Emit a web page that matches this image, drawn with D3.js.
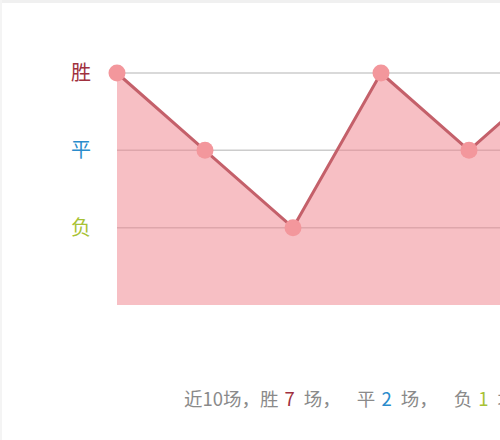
<!DOCTYPE html>
<html>
<head>
<meta charset="utf-8">
<title>近10场战绩</title>
<script src="https://cdn.jsdelivr.net/npm/d3@7"></script>
<style>
    html, body { margin: 0; padding: 0; background: #fff; overflow: hidden; }
    #main { width: 500px; height: 440px; overflow: hidden; position: relative; }
</style>
</head>
<body>
<div id="main"></div>
<script>
"use strict";

// results of the last 10 matches, 3 = win, 2 = draw, 1 = loss
const matchIndex = [1, 2, 3, 4, 5, 6, 7, 8, 9, 10];
const matchResults = [3, 2, 1, 3, 2, 3, 3, 3, 3, 3];
const resultLevels = [3, 2, 1];
const resultLabels = ["胜", "平", "负"];
const resultColors = ["#a0303e", "#2a8ccc", "#a8c234"];
const summaryCounts = [7, 2, 1];

function drawChart() {
    const width = 1000;
    const height = 440;

    const svg = d3.select("#main")
        .append("svg")
        .attr("width", width)
        .attr("height", height)
        .style("font-family", "'Noto Sans CJK SC', 'Noto Sans', sans-serif");

    // faint frame on top and left
    svg.append("rect").attr("x", 0).attr("y", 0).attr("width", width).attr("height", 3).attr("fill", "#f0f0f0");
    svg.append("rect").attr("x", 0).attr("y", 0).attr("width", 2).attr("height", height).attr("fill", "#f4f4f4");

    const x = d3.scaleLinear()
        .domain([1, 10])
        .range([117, 117 + 9 * 88]);
    const y = d3.scaleLinear()
        .domain([0, 3])
        .range([305, 73]);

    // horizontal grid lines for every level
    svg.append("g")
        .selectAll("line")
        .data(resultLevels)
        .join("line")
        .attr("x1", x(1))
        .attr("x2", width)
        .attr("y1", d => y(d))
        .attr("y2", d => y(d))
        .attr("stroke", "#cccccc")
        .attr("stroke-width", 1.5);

    const points = matchIndex.map((m, i) => ({ m, v: matchResults[i] }));

    // filled area down to zero
    const area = d3.area()
        .x(d => x(d.m))
        .y0(y(0))
        .y1(d => y(d.v));
    svg.append("path")
        .datum(points)
        .attr("d", area)
        .attr("fill", "rgb(240,128,138)")
        .attr("fill-opacity", 0.5);

    const line = d3.line()
        .x(d => x(d.m))
        .y(d => y(d.v));
    svg.append("path")
        .datum(points)
        .attr("d", line)
        .attr("fill", "none")
        .attr("stroke", "#c4606a")
        .attr("stroke-width", 3)
        .attr("stroke-linejoin", "round");

    svg.append("g")
        .selectAll("circle")
        .data(points)
        .join("circle")
        .attr("cx", d => x(d.m))
        .attr("cy", d => y(d.v))
        .attr("r", 8.5)
        .attr("fill", "#f3979c");

    // level labels on the left
    svg.append("g")
        .selectAll("text")
        .data(resultLevels)
        .join("text")
        .attr("x", 81)
        .attr("y", d => y(d))
        .attr("dy", "0.35em")
        .attr("text-anchor", "middle")
        .style("font-size", "20px")
        .attr("fill", (d, i) => resultColors[i])
        .text((d, i) => resultLabels[i]);

    // summary line at the bottom
    const summary = svg.append("text")
        .attr("x", 184)
        .attr("y", 406)
        .style("font-size", "18.5px")
        .attr("fill", "#8a8a8a");
    summary.append("tspan").text("近" + matchIndex.length + "场，");
    resultLabels.forEach((label, i) => {
        summary.append("tspan").attr("dx", i === 0 ? 0 : 16).text(label);
        summary.append("tspan").attr("dx", 6).attr("fill", resultColors[i]).text(summaryCounts[i]);
        summary.append("tspan").attr("dx", 9).text(i < resultLabels.length - 1 ? "场，" : "场");
    });
}

drawChart();
</script>
</body>
</html>
